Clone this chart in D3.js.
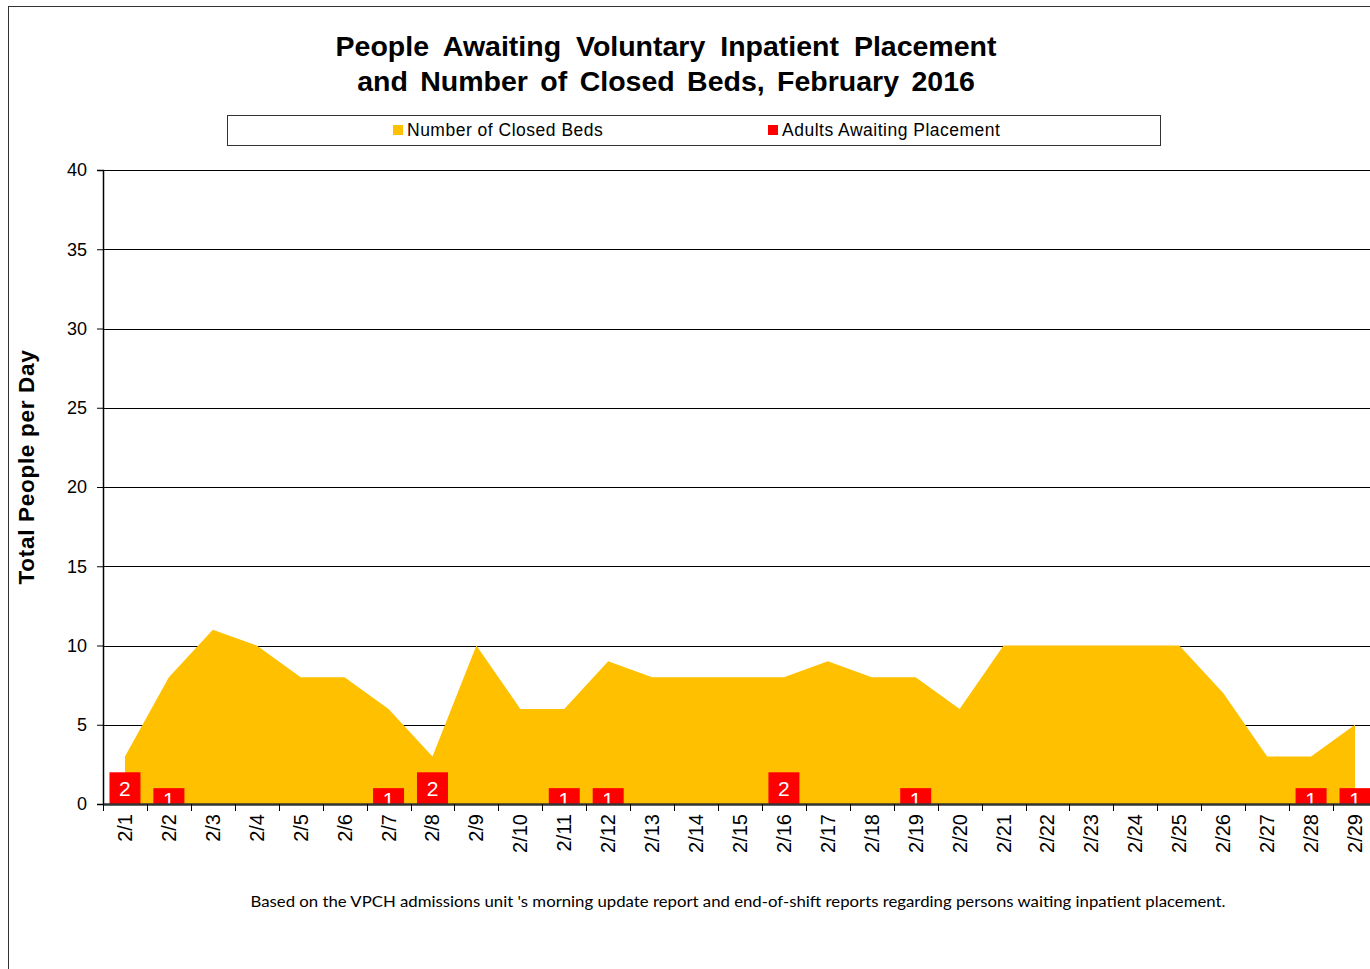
<!DOCTYPE html>
<html>
<head>
<meta charset="utf-8">
<script src="https://cdn.jsdelivr.net/npm/d3@7"></script>
<style>
  body { margin: 0; background: #fff; }
  svg { display: block; font-family: Arial, "Liberation Sans", sans-serif; }
</style>
</head>
<body>
<div id="chart"></div>
<script>
// chart data
var days = ["2/1","2/2","2/3","2/4","2/5","2/6","2/7","2/8","2/9","2/10","2/11","2/12","2/13","2/14","2/15",
            "2/16","2/17","2/18","2/19","2/20","2/21","2/22","2/23","2/24","2/25","2/26","2/27","2/28","2/29"];
var closedBeds = [3,8,11,10,8,8,6,3,10,6,6,9,8,8,8,8,9,8,8,6,10,10,10,10,10,7,3,3,5];
var awaiting   = [2,1,0,0,0,0,1,2,0,0,1,1,0,0,0,2,0,0,1,0,0,0,0,0,0,0,0,1,1];
var yTicks = [0,5,10,15,20,25,30,35,40];

var svgWidth = 1370, svgHeight = 969;
var margin = { top: 170, left: 103 },
    plotWidth = 29 * 43.93,
    plotHeight = 634;

var svg = d3.select("#chart").append("svg")
    .attr("width", svgWidth)
    .attr("height", svgHeight);

// outer frame (runs off the right edge like the original)
svg.append("rect")
    .attr("x", 8.5).attr("y", 6.5)
    .attr("width", 1400).attr("height", 1000)
    .attr("fill", "none")
    .attr("stroke", "#333")
    .attr("stroke-width", 1);

// title
var title = svg.append("text")
    .attr("text-anchor", "middle")
    .attr("font-weight", "bold")
    .attr("font-size", 28.5);
title.append("tspan").attr("x", 666).attr("y", 56).attr("word-spacing", 7)
    .text("People Awaiting Voluntary Inpatient Placement");
title.append("tspan").attr("x", 666).attr("y", 91).attr("word-spacing", 4.5)
    .text("and Number of Closed Beds, February 2016");

// legend
var legend = svg.append("g");
legend.append("rect")
    .attr("x", 227.5).attr("y", 115.5)
    .attr("width", 933).attr("height", 30)
    .attr("fill", "#fff")
    .attr("stroke", "#333");
var legendItems = [
    { name: "Number of Closed Beds", color: "#FFC000", x: 393 },
    { name: "Adults Awaiting Placement", color: "#FF0000", x: 768 }
];
legendItems.forEach(function (d) {
    legend.append("rect")
        .attr("x", d.x).attr("y", 125)
        .attr("width", 10).attr("height", 10)
        .attr("fill", d.color);
    legend.append("text")
        .attr("x", d.x + 14).attr("y", 136)
        .attr("font-size", 17.5)
        .attr("letter-spacing", 0.5)
        .text(d.name);
});

var g = svg.append("g")
    .attr("transform", "translate(" + margin.left + "," + margin.top + ")");

var x = d3.scaleBand().domain(days).range([0, plotWidth]);
var y = d3.scaleLinear().domain([0, 40]).range([plotHeight, 0]);

// gridlines
g.selectAll(".grid")
    .data(yTicks.filter(function (d) { return d > 0; }))
    .enter()
    .append("line")
    .attr("x1", 0).attr("x2", plotWidth)
    .attr("y1", function (d) { return Math.round(y(d)) + 0.5; })
    .attr("y2", function (d) { return Math.round(y(d)) + 0.5; })
    .attr("stroke", "#000")
    .attr("stroke-width", 1);

// closed beds area
var area = d3.area()
    .x(function (d, i) { return x(days[i]) + x.bandwidth() / 2; })
    .y0(y(0))
    .y1(function (d) { return y(d); });

g.append("path")
    .datum(closedBeds)
    .attr("fill", "#FFC000")
    .attr("d", area);

// awaiting placement bars
var barWidth = 31;
var bars = g.selectAll(".bar")
    .data(awaiting.map(function (v, i) { return { day: days[i], value: v }; })
        .filter(function (d) { return d.value > 0; }))
    .enter();

bars.append("rect")
    .attr("x", function (d) { return x(d.day) + x.bandwidth() / 2 - barWidth / 2; })
    .attr("y", function (d) { return y(d.value); })
    .attr("width", barWidth)
    .attr("height", function (d) { return y(0) - y(d.value); })
    .attr("fill", "#FF0000");

bars.append("text")
    .attr("x", function (d) { return x(d.day) + x.bandwidth() / 2; })
    .attr("y", function (d) { return d.value > 1 ? (y(d.value) + y(0)) / 2 + 8 : y(0) + 3; })
    .attr("text-anchor", "middle")
    .attr("font-size", 21)
    .attr("fill", "#fff")
    .text(function (d) { return d.value; });

// y axis
var yAxis = g.append("g")
    .call(d3.axisLeft(y).tickValues(yTicks).tickSize(6).tickPadding(10));
yAxis.select(".domain").attr("stroke", "#000").attr("stroke-width", 1.5);
yAxis.selectAll("text").attr("font-size", 18).attr("fill", "#000").attr("font-family", "Arial, 'Liberation Sans', sans-serif");
yAxis.selectAll(".tick line").attr("stroke", "#000");

// x axis
var xAxis = g.append("g")
    .attr("transform", "translate(0," + plotHeight + ")")
    .call(d3.axisBottom(x).tickSize(0).tickPadding(0));
xAxis.select(".domain").attr("stroke", "#333").attr("stroke-width", 2.5);
xAxis.selectAll(".tick text")
    .attr("font-size", 20)
    .attr("fill", "#000")
    .attr("font-family", "Arial, 'Liberation Sans', sans-serif")
    .attr("transform", "rotate(-90)")
    .attr("text-anchor", "end")
    .attr("x", -10)
    .attr("y", 0)
    .attr("dy", "0.35em");

// band boundary ticks
g.selectAll(".xtick")
    .data(days.concat(["end"]))
    .enter()
    .append("line")
    .attr("x1", function (d, i) { return Math.round(i * x.bandwidth()) + 0.5; })
    .attr("x2", function (d, i) { return Math.round(i * x.bandwidth()) + 0.5; })
    .attr("y1", plotHeight)
    .attr("y2", plotHeight + 7)
    .attr("stroke", "#000");

// y axis title
svg.append("text")
    .attr("transform", "translate(34,467) rotate(-90)")
    .attr("text-anchor", "middle")
    .attr("font-weight", "bold")
    .attr("font-size", 22.5)
    .attr("letter-spacing", 0.7)
    .text("Total People per Day");

// footnote
svg.append("text")
    .attr("x", 738).attr("y", 907)
    .attr("text-anchor", "middle")
    .attr("font-family", "Lato, 'Open Sans', sans-serif")
    .attr("font-size", 15)
    .attr("textLength", 975)
    .attr("lengthAdjust", "spacingAndGlyphs")
    .text("Based on the VPCH admissions unit 's morning update report and end-of-shift reports regarding persons waiting inpatient placement.");
</script>
</body>
</html>
